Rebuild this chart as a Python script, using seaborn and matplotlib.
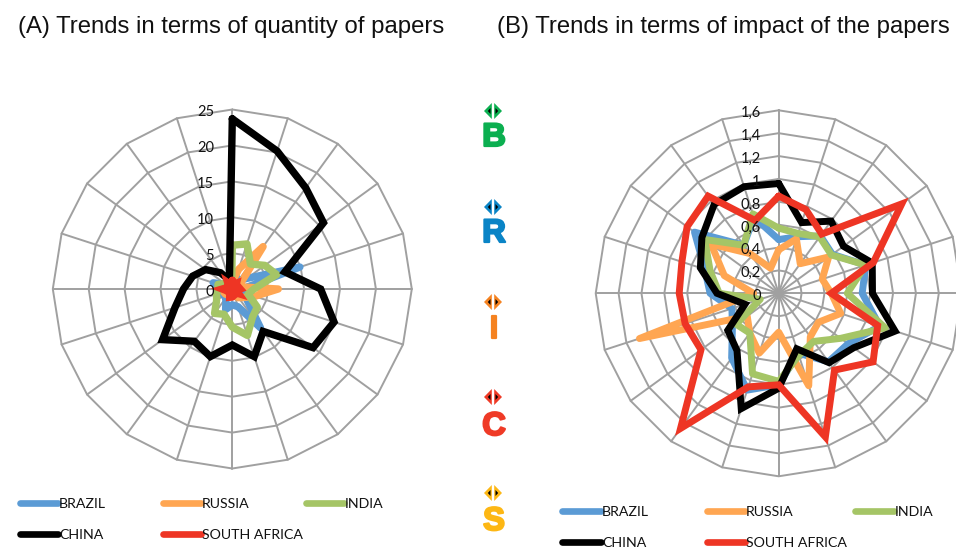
import numpy as np
import pandas as pd
import seaborn as sns
import matplotlib
matplotlib.use("Agg")
import matplotlib.pyplot as plt
from matplotlib.lines import Line2D
from matplotlib.patches import Polygon
import matplotlib.patheffects as pe

sns.set_theme(style="white")
plt.rcParams["font.family"] = ["Lato", "DejaVu Sans"]

series_names = ["BRAZIL", "RUSSIA", "INDIA", "CHINA", "SOUTH AFRICA"]
series_colors = ["#5B9BD5", "#FFA652", "#A5C566", "#000000", "#EE3524"]
series_joins = ["round", "round", "round", "miter", "miter"]

# values clockwise from the top, one per spoke
brazil_a = [1.5, 1.8, 1.5, 2.5, 9.9, 1.5, 1.5, 2.5, 6.7, 2.6, 2.2, 3.0, 1.5, 1.5, 1.5, 2.0, 2.8, 1.0, 0.5, 0.5]
russia_a = [1.0, 2.9, 7.3, 1.5, 1.0, 6.4, 3.3, 2.0, 1.5, 1.0, 1.0, 1.2, 1.0, 1.2, 1.3, 1.5, 1.2, 1.0, 0.6, 0.4]
india_a = [6.1, 6.6, 4.3, 5.6, 6.5, 3.0, 2.3, 4.3, 4.8, 6.8, 5.3, 3.7, 4.2, 2.7, 2.3, 2.0, 2.1, 1.3, 0.5, 0.3]
china_a = [23.7, 20.2, 17.4, 15.7, 7.7, 12.3, 14.9, 13.9, 7.3, 9.9, 7.8, 9.9, 9.0, 12.0, 8.4, 6.8, 5.8, 4.6, 2.8, 1.3]
safrica_a = [1.2, 0.7, 1.0, 0.6, 0.9, 1.1, 0.6, 1.1, 0.6, 0.9, 1.1, 1.2, 0.6, 0.7, 0.8, 1.4, 0.7, 0.6, 1.1, 0.6]

brazil_b = [0.47, 0.52, 0.62, 0.58, 0.80, 0.73, 0.93, 0.75, 0.74, 0.55, 0.80, 0.89, 0.70, 0.50, 0.43, 0.60, 0.68, 0.91, 0.52, 0.70]
russia_b = [0.38, 0.50, 0.32, 0.54, 0.40, 0.46, 0.57, 0.43, 0.47, 0.85, 0.34, 0.55, 0.43, 0.34, 1.28, 0.22, 0.50, 0.73, 0.43, 0.23]
india_b = [0.57, 0.55, 0.61, 0.57, 0.80, 0.60, 0.98, 0.67, 0.52, 0.57, 0.77, 0.74, 0.43, 0.46, 0.17, 0.52, 0.63, 0.80, 0.52, 0.73]
china_b = [0.96, 0.65, 0.78, 0.70, 0.86, 0.82, 1.07, 0.81, 0.75, 0.51, 0.83, 1.06, 0.62, 0.55, 0.31, 0.54, 0.72, 0.83, 0.96, 0.98]
safrica_b = [0.85, 0.77, 0.64, 1.33, 0.87, 0.46, 0.91, 1.02, 0.83, 1.32, 0.80, 0.86, 1.46, 0.84, 0.86, 0.87, 0.89, 0.99, 1.05, 0.67]

ticks_a = [0, 5, 10, 15, 20, 25]
tick_labels_a = ["0", "5", "10", "15", "20", "25"]
ticks_b = [0, 0.2, 0.4, 0.6, 0.8, 1.0, 1.2, 1.4, 1.6]
tick_labels_b = ["0", "0,2", "0,4", "0,6", "0,8", "1", "1,2", "1,4", "1,6"]

brics_letters = ["B", "R", "I", "C", "S"]
brics_colors = ["#0BAF50", "#0A84C6", "#F58220", "#EF3A26", "#FDB714"]

n_spokes = 20
angles = np.linspace(0, 2 * np.pi, n_spokes + 1)
W, H = 956, 550


def radar(cx, cy, radius, values, ticks, tick_labels, lw):
    ax = fig.add_axes([(cx - radius) / W, 1 - (cy + radius) / H, 2 * radius / W, 2 * radius / H],
                      projection="polar")
    ax.set_theta_zero_location("N")
    ax.set_theta_direction(-1)
    ax.patch.set_alpha(0)
    ax.spines["polar"].set_visible(False)
    ax.grid(False)
    ax.set_xticks([])
    ax.set_yticks([])
    for t in ticks[1:]:
        ax.plot(angles, [t] * len(angles), color="#A0A0A0", lw=1.4, clip_on=False, zorder=1)
    for a in angles[:-1]:
        ax.plot([a, a], [0, ticks[-1]], color="#A0A0A0", lw=1.4, clip_on=False, zorder=1)

    df = pd.DataFrame({
        "angle": np.tile(angles, len(series_names)),
        "value": np.concatenate([list(v) + [v[0]] for v in values]),
        "series": np.repeat(series_names, len(angles)),
    })
    for name, color, join in zip(series_names, series_colors, series_joins):
        sns.lineplot(data=df[df["series"] == name], x="angle", y="value", color=color, sort=False,
                     estimator=None, lw=lw, solid_joinstyle=join, solid_capstyle="round",
                     legend=False, ax=ax, zorder=3)
    ax.set_xlabel("")
    ax.set_ylabel("")
    ax.set_xticks([])
    ax.set_yticks([])
    ax.set_ylim(0, ticks[-1])
    for t, label in zip(ticks, tick_labels):
        ax.annotate(label, (0, t), xytext=(-13, -2), textcoords="offset points", ha="right",
                    va="center", fontsize=10.5, color="#111111", annotation_clip=False, zorder=4)
    return ax


fig = plt.figure(figsize=(W / 100, H / 100), dpi=100)

radar(232.3, 289, 179.5, [brazil_a, russia_a, india_a, china_a, safrica_a], ticks_a, tick_labels_a, 5.3)
radar(778.7, 293.3, 183, [brazil_b, russia_b, india_b, china_b, safrica_b], ticks_b, tick_labels_b, 5.0)

# overlay in pixel coordinates for titles, legends and the BRICS column
over = fig.add_axes([0, 0, 1, 1])
over.set_xlim(0, W)
over.set_ylim(H, 0)
over.axis("off")
over.patch.set_alpha(0)

over.text(18, 27, "(A) Trends in terms of quantity of papers", fontsize=17.2, family="Liberation Sans",
          color="#111111", va="center", ha="left")
over.text(497, 27, "(B) Trends in terms of impact of the papers", fontsize=17.2, family="Liberation Sans",
          color="#111111", va="center", ha="left")


def legend_item(x0, x1, y, color, label):
    over.add_line(Line2D([x0, x1], [y, y], color=color, lw=4.8, solid_capstyle="round"))
    over.text(x1 + 1, y + 1, label, fontsize=10.2, color="#111111", va="center", ha="left")


left_pos = [(20, 58, 503), (163, 201, 503), (306, 344, 503), (20, 58, 534), (163, 201, 534)]
right_pos = [(562, 601, 511), (707, 745, 511), (855, 894, 511), (562, 601, 542), (707, 745, 542)]
for pos in (left_pos, right_pos):
    for (x0, x1, y), color, label in zip(pos, series_colors, series_names):
        legend_item(x0, x1, y, color, label)

diamond_y = [111, 207, 302, 397, 493]
base_y = [146, 242, 338, 435, 530]
for letter, color, dy, by in zip(brics_letters, brics_colors, diamond_y, base_y):
    over.add_patch(Polygon([(484, dy), (491.8, dy - 8), (491.8, dy + 8)], color=color, lw=0))
    over.add_patch(Polygon([(502, dy), (494.2, dy - 8), (494.2, dy + 8)], color=color, lw=0))
    over.add_patch(Polygon([(487.8, dy), (490.5, dy - 3), (490.5, dy + 3)], color="black", lw=0))
    over.add_patch(Polygon([(498.2, dy), (495.5, dy - 3), (495.5, dy + 3)], color="black", lw=0))
    t = over.text(494, by, letter, fontsize=23.5, family="Liberation Sans", fontweight="bold",
                  color=color, ha="center", va="baseline")
    t.set_path_effects([pe.withStroke(linewidth=1.6, foreground=color)])

fig.savefig("out.png", dpi=100, facecolor="white")
